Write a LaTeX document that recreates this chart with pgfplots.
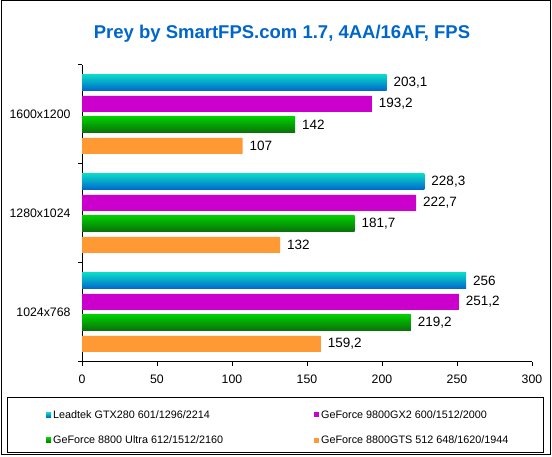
\documentclass[border=0pt]{standalone}
\usepackage{fontspec}
\setmainfont{Liberation Sans}
\usepackage{pgfplots}
\pgfplotsset{compat=1.18}
\definecolor{titleblue}{RGB}{0,102,204}
\definecolor{cyT}{RGB}{10,215,200}
\definecolor{cyM}{RGB}{0,175,215}
\definecolor{cyB}{RGB}{0,100,205}
\definecolor{mag}{RGB}{204,0,204}
\definecolor{grT}{RGB}{0,205,0}
\definecolor{grM}{RGB}{0,192,0}
\definecolor{grB}{RGB}{10,110,10}
\definecolor{org}{RGB}{255,153,51}
\pgfplotsset{
  cyanbar/.style={draw=none, top color=cyT, middle color=cyM, bottom color=cyB, bar shift=31.5pt},
  magbar/.style={draw=none, fill=mag, bar shift=10.5pt},
  greenbar/.style={draw=none, top color=grT, middle color=grM, bottom color=grB, bar shift=-10.5pt},
  orangebar/.style={draw=none, fill=org, bar shift=-31.5pt},
}
\begin{document}
\begin{tikzpicture}
\useasboundingbox (0,0) rectangle (552pt,457pt);
\draw[line width=1pt] (1pt,2pt) rectangle (550.5pt,456pt);
\draw[line width=1pt] (7.5pt,4.5pt) rectangle (543.5pt,59.5pt);
\node[font=\bfseries\fontsize{18.5}{22}\selectfont, text=titleblue] at (282pt,423pt) {Prey by SmartFPS.com 1.7, 4AA/16AF, FPS};
\begin{axis}[
  at={(82pt,95pt)}, anchor=south west,
  scale only axis, width=450pt, height=297pt,
  xmin=0, xmax=300, ymin=-0.5, ymax=2.5,
  axis x line*=bottom, axis y line*=left,
  axis line style={line width=1pt},
  xbar, bar width=16pt,
  tick align=outside, major tick length=4pt,
  every tick/.style={black, line width=1pt},
  xtick={0,50,...,300},
  ytick={0,1,2}, yticklabels={1024x768,1280x1024,1600x1200},
  ytick style={draw=none},
  extra y ticks={-0.5,0.5,1.5,2.5}, extra y tick labels={},
  extra y tick style={ytick style={draw=black, line width=1pt}},
  /pgf/number format/assume math mode=true,
  tick label style={font=\fontsize{12.3}{14}\selectfont},
  yticklabel style={xshift=-4pt},
  xticklabel style={yshift=-5pt},
  nodes near coords={\pgfmathprintnumber[fixed, precision=1, use comma]{\pgfplotspointmeta}},
  nodes near coords align={horizontal},
  every node near coord/.append style={font=\fontsize{13.5}{15}\selectfont, black, xshift=3.5pt},
  legend image code/.code={\fill[#1] (0pt,-2.5pt) rectangle (5pt,2.5pt);},
  legend columns=2,
  legend cell align=left,
  legend style={draw=none, fill=none, at={(-0.08,-0.155)}, anchor=north west,
    font=\fontsize{10.8}{12}\selectfont, row sep=12pt, column sep=0pt, inner sep=0pt},
]
% Leadtek GTX280 601/1296/2214
\addplot[cyanbar] coordinates {(203.1,2)};
\addlegendentry{\makebox[259pt][l]{Leadtek GTX280 601/1296/2214}}
\addplot[cyanbar, forget plot] coordinates {(228.3,1)};
\addplot[cyanbar, forget plot] coordinates {(256,0)};
% GeForce 9800GX2
\addplot[magbar] coordinates {(193.2,2) (222.7,1) (251.2,0)};
\addlegendentry{GeForce 9800GX2 600/1512/2000}
% GeForce 8800 Ultra
\addplot[greenbar] coordinates {(142,2)};
\addlegendentry{\makebox[259pt][l]{GeForce 8800 Ultra 612/1512/2160}}
\addplot[greenbar, forget plot] coordinates {(181.7,1)};
\addplot[greenbar, forget plot] coordinates {(219.2,0)};
% GeForce 8800GTS 512
\addplot[orangebar] coordinates {(107,2) (132,1) (159.2,0)};
\addlegendentry{GeForce 8800GTS 512 648/1620/1944}
\end{axis}
\end{tikzpicture}
\end{document}
